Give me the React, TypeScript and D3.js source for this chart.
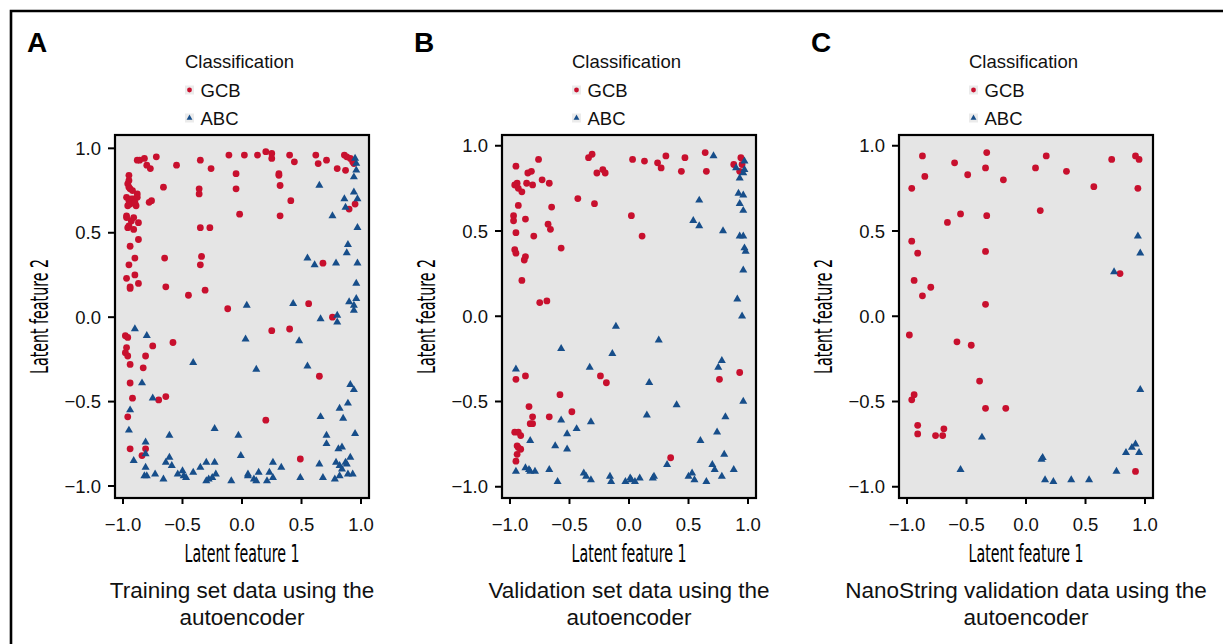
import React from "react"
import * as d3 from "d3"

// classification scatter: latent features from the autoencoder
const ticks = [-1.0, -0.5, 0.0, 0.5, 1.0]
const classes = ["GCB", "ABC"]
const titles = [
  ["Training set data using the", "autoencoder"],
  ["Validation set data using the", "autoencoder"],
  ["NanoString validation data using the", "autoencoder"]
]
const letters = ["A", "B", "C"]

const trainGCB = [
  [-0.95,0.84],[-0.88,0.93],[-0.86,0.93],[-0.82,0.94],[-0.80,0.90],[-0.77,0.88],[-0.72,0.95],[-0.55,0.90],[-0.35,0.93],[-0.26,0.88],
  [-0.11,0.96],[-0.05,0.85],[-0.05,0.76],[-0.02,0.61],[0.02,0.96],[0.13,0.96],[0.20,0.98],[0.25,0.97],[0.25,0.94],[0.31,0.85],
  [0.31,0.84],[0.32,0.78],[0.32,0.60],[0.40,0.96],[0.41,0.69],[0.44,0.92],[0.62,0.96],[0.64,0.91],[0.71,0.93],[0.80,0.88],
  [0.87,0.87],[0.86,0.96],[0.88,0.95],[0.91,0.94],[0.93,0.92],[0.94,0.91],[0.95,0.67],[0.90,0.64],[0.68,0.32],[0.56,0.08],[0.76,0.00],
  [-0.95,0.81],[-0.96,0.79],[-0.95,0.77],[-0.94,0.76],[-0.92,0.75],[-0.97,0.71],[-0.95,0.69],[-0.93,0.70],[-0.91,0.70],[-0.96,0.66],
  [-0.94,0.67],[-0.88,0.73],[-0.88,0.71],[-0.89,0.66],[-0.90,0.68],[-0.97,0.60],[-0.97,0.59],[-0.91,0.59],[-0.93,0.57],[-0.87,0.56],
  [-0.95,0.54],[-0.96,0.53],[-0.91,0.52],[-0.87,0.46],[-0.94,0.42],[-0.90,0.35],[-0.95,0.31],[-0.97,0.23],[-0.90,0.25],[-0.94,0.18],
  [-0.94,0.17],[-0.87,0.20],[-0.78,0.68],[-0.76,0.69],[-0.66,0.77],[-0.65,0.35],[-0.64,0.18],[-0.45,0.13],[-0.36,0.76],[-0.36,0.73],
  [-0.35,0.53],[-0.27,0.53],[-0.34,0.36],[-0.35,0.31],[-0.31,0.16],[-0.12,0.05],
  [-0.98,-0.11],[-0.96,-0.12],[-0.97,-0.18],[-0.98,-0.21],[-0.96,-0.23],[-0.94,-0.28],[-0.83,-0.30],[-0.81,-0.23],[-0.75,-0.17],[-0.58,-0.15],
  [-0.94,-0.39],[-0.92,-0.48],[-0.96,-0.59],[-0.94,-0.78],[-0.81,-0.78],[-0.84,-0.82],[-0.70,-0.49],[-0.64,-0.47],[0.25,-0.08],[0.40,-0.07],
  [0.65,-0.35],[0.20,-0.61],[0.49,-0.84]
]
const trainABC = [
  [0.95,0.94],[0.96,0.91],[0.96,0.87],[0.94,0.83],[0.65,0.78],[0.94,0.74],[0.97,0.70],[0.86,0.70],[0.87,0.65],[0.76,0.60],
  [0.97,0.53],[0.89,0.43],[0.88,0.38],[0.55,0.35],[0.61,0.31],[0.79,0.32],[0.97,0.32],[0.96,0.20],[0.96,0.11],[0.90,0.09],
  [0.94,0.07],[0.94,0.04],[0.04,0.07],[0.43,0.08],[0.66,-0.01],[0.80,0.01],[0.80,-0.03],
  [-0.90,-0.07],[-0.80,-0.11],[0.03,-0.13],[0.48,-0.14],[-0.41,-0.27],[0.12,-0.31],[0.55,-0.29],[-0.84,-0.39],[-0.75,-0.48],[-0.94,-0.55],
  [-0.95,-0.67],[-0.81,-0.74],[-0.81,-0.81],[-0.91,-0.85],[-0.81,-0.89],[-0.82,-0.94],[-0.80,-0.94],[-0.73,-0.93],[-0.66,-0.96],[-0.64,-0.86],
  [-0.61,-0.83],[-0.59,-0.88],[-0.61,-0.70],[-0.54,-0.93],[-0.50,-0.91],[-0.49,-0.94],[-0.47,-0.95],[-0.41,-0.92],[-0.35,-0.89],[-0.30,-0.86],
  [-0.30,-0.97],[-0.28,-0.96],[-0.25,-0.95],[-0.23,-0.86],[-0.22,-0.93],[-0.23,-0.66],[-0.09,-0.97],[-0.03,-0.70],[-0.01,-0.82],[0.05,-0.93],
  [0.05,-0.94],[0.10,-0.96],[0.12,-0.97],[0.14,-0.92],[0.21,-0.97],[0.23,-0.92],[0.26,-0.95],[0.26,-0.86],[0.33,-0.89],[0.49,-0.95],
  [0.65,-0.87],[0.66,-0.59],[0.68,-0.95],[0.71,-0.70],[0.71,-0.75],[0.78,-0.96],[0.79,-0.86],[0.82,-0.94],[0.81,-0.78],[0.84,-0.77],
  [0.82,-0.54],[0.85,-0.60],[0.82,-0.88],[0.84,-0.90],[0.87,-0.86],[0.88,-0.87],[0.89,-0.93],[0.93,-0.93],[0.91,-0.83],[0.89,-0.51],
  [0.91,-0.40],[0.94,-0.43],[0.95,-0.69]
]

const validGCB = [
  [-0.95,0.88],[-0.76,0.92],[-0.95,0.77],[-0.94,0.78],[-0.96,0.77],[-0.93,0.75],[-0.90,0.73],[-0.86,0.78],[-0.81,0.77],[-0.85,0.84],
  [-0.82,0.85],[-0.73,0.80],[-0.67,0.78],[-0.93,0.65],[-0.65,0.64],[-0.97,0.59],[-0.97,0.56],[-0.87,0.57],[-0.95,0.49],[-0.80,0.47],
  [-0.68,0.54],[-0.66,0.51],[-0.57,0.40],[-0.96,0.39],[-0.95,0.37],[-0.87,0.35],[-0.88,0.33],[-0.90,0.21],[-0.75,0.08],[-0.69,0.09],
  [-0.43,0.69],[-0.34,0.93],[-0.31,0.95],[-0.29,0.66],[-0.27,0.84],[-0.22,0.86],[-0.20,0.84],[0.03,0.92],[0.13,0.91],[0.02,0.59],
  [0.11,0.47],[0.24,0.90],[0.27,0.87],[0.31,0.94],[0.44,0.85],[0.47,0.93],[0.64,0.96],[0.65,0.85],[0.88,0.89],[0.94,0.93],
  [0.95,0.89],[0.93,0.85],
  [-0.95,-0.37],[-0.87,-0.35],[-0.24,-0.35],[-0.19,-0.39],[-0.58,-0.46],[-0.48,-0.56],[-0.84,-0.53],[-0.67,-0.59],[-0.81,-0.59],[-0.83,-0.63],
  [-0.81,-0.63],[-0.96,-0.68],[-0.93,-0.68],[-0.91,-0.70],[-0.94,-0.76],[-0.93,-0.77],[-0.91,-0.78],[-0.94,-0.81],[-0.95,-0.85],[0.35,-0.83],
  [0.76,-0.37],[0.93,-0.33]
]
const validABC = [
  [0.71,0.94],[0.90,0.87],[0.97,0.91],[0.97,0.86],[0.96,0.84],[0.93,0.81],[0.92,0.72],[0.96,0.71],[0.93,0.66],[0.96,0.62],
  [0.59,0.68],[0.54,0.56],[0.59,0.53],[0.79,0.50],[0.93,0.47],[0.96,0.47],[0.97,0.40],[0.98,0.38],[0.96,0.27],[0.91,0.10],
  [0.95,0.00],[-0.11,-0.06],
  [0.25,-0.14],[-0.57,-0.19],[-0.14,-0.22],[-0.95,-0.31],[-0.33,-0.30],[0.78,-0.26],[0.75,-0.30],[0.17,-0.39],[0.40,-0.52],[0.96,-0.50],
  [0.15,-0.58],[0.81,-0.59],[-0.57,-0.61],[-0.32,-0.62],[-0.44,-0.66],[-0.52,-0.69],[0.74,-0.68],[-0.83,-0.73],[0.60,-0.73],[-0.62,-0.76],
  [-0.52,-0.78],[0.80,-0.81],[0.32,-0.87],[0.70,-0.87],[0.72,-0.90],[0.88,-0.90],[0.78,-0.94],[-0.87,-0.89],[-0.83,-0.91],[-0.79,-0.91],
  [-0.84,-0.90],[-0.95,-0.91],[-0.67,-0.90],[-0.60,-0.97],[-0.38,-0.92],[-0.36,-0.94],[-0.32,-0.96],[-0.16,-0.94],[-0.15,-0.97],[-0.03,-0.97],
  [0.01,-0.95],[0.02,-0.96],[0.05,-0.97],[0.09,-0.95],[0.20,-0.95],[0.21,-0.94],[0.50,-0.94],[0.53,-0.92],[0.55,-0.96],[0.65,-0.97]
]

const nanoGCB = [
  [-0.87,0.94],[-0.96,0.75],[-0.85,0.82],[-0.60,0.90],[-0.49,0.83],[-0.34,0.87],[-0.33,0.96],[-0.19,0.80],[0.08,0.87],[0.17,0.94],
  [0.34,0.85],[0.57,0.76],[0.72,0.92],[0.92,0.94],[0.95,0.92],[0.94,0.75],[0.12,0.62],[-0.66,0.55],[-0.55,0.60],[-0.33,0.59],
  [-0.34,0.38],[-0.96,0.44],[-0.91,0.37],[-0.94,0.21],[-0.87,0.12],[-0.80,0.17],[-0.34,0.07],[0.79,0.25],
  [-0.98,-0.11],[-0.58,-0.15],[-0.46,-0.17],[-0.39,-0.38],[-0.94,-0.46],[-0.96,-0.49],[-0.34,-0.54],[-0.17,-0.54],[-0.91,-0.64],[-0.91,-0.69],
  [-0.76,-0.70],[-0.70,-0.70],[-0.69,-0.66],[0.92,-0.91]
]
const nanoABC = [
  [0.94,0.47],[0.96,0.37],[0.74,0.26],[0.96,-0.43],[-0.37,-0.71],[-0.55,-0.90],[0.13,-0.84],[0.14,-0.83],[0.16,-0.96],[0.23,-0.97],
  [0.38,-0.96],[0.53,-0.96],[0.76,-0.91],[0.84,-0.80],[0.89,-0.77],[0.92,-0.75],[0.95,-0.80]
]

const xDomain = [-1.067, 1.067]
const yDomains = [[-1.071, 1.079], [-1.066, 1.063], [-1.066, 1.063]]

const RED = "#C8102E"
const BLUE = "#174E8A"
const FONT = "'Liberation Sans', Arial, Helvetica, sans-serif"
const NARROW = "'Liberation Sans Narrow', 'DejaVu Sans Condensed', 'Liberation Sans', sans-serif"

const fmt = d3.format(".1f")
const tri = d3.symbol().type(d3.symbolTriangle).size(28)()
const triSmall = d3.symbol().type(d3.symbolTriangle).size(15)()

function Panel({ idx, left, gcb, abc }) {
  const top = 135
  const w = 254
  const h = 363
  const x = d3.scaleLinear().domain(xDomain).range([left, left + w])
  const y = d3.scaleLinear().domain(yDomains[idx]).range([top + h, top])
  const cx = left + w / 2
  const cy = top + h / 2
  const lx = left + 70

  return (
    <g fontFamily={FONT}>
      <text x={left - 88} y={52} fontSize={28} fontWeight="bold">{letters[idx]}</text>

      {/* legend */}
      <text x={lx} y={68} fontSize={18.5} fill="#111">Classification</text>
      {classes.map((c, i) => (
        <g key={c} transform={`translate(${lx + 4.5},${90 + i * 28})`}>
          <rect x={-4.5} y={-4.5} width={9} height={9} fill="#EBEBEB" />
          {i === 0
            ? <circle r={2.4} fill={RED} />
            : <path d={triSmall} fill={BLUE} />}
          <text x={11} y={6.5} fontSize={18.5} fill="#111">{c}</text>
        </g>
      ))}

      <rect x={left} y={top} width={w} height={h} fill="#E5E5E5" />

      {gcb.map((d, i) => (
        <circle key={"g" + i} cx={x(d[0])} cy={y(d[1])} r={3.4} fill={RED} />
      ))}
      {abc.map((d, i) => (
        <path key={"a" + i} d={tri} transform={`translate(${x(d[0])},${y(d[1])})`} fill={BLUE} />
      ))}

      <rect x={left} y={top} width={w} height={h} fill="none" stroke="#000" strokeWidth={2.2} />

      {/* y axis */}
      {ticks.map(t => (
        <g key={"y" + t}>
          <line x1={left - 7} x2={left} y1={y(t)} y2={y(t)} stroke="#000" strokeWidth={2} />
          <text x={left - 14} y={y(t)} dy="0.36em" textAnchor="end" fontSize={18.5} fill="#111">{fmt(t)}</text>
        </g>
      ))}
      {/* x axis */}
      {ticks.map(t => (
        <g key={"x" + t}>
          <line x1={x(t)} x2={x(t)} y1={top + h} y2={top + h + 6} stroke="#000" strokeWidth={2} />
          <text x={x(t)} y={531} textAnchor="middle" fontSize={18.5} fill="#111">{fmt(t)}</text>
        </g>
      ))}

      <text x={cx} y={562} textAnchor="middle" fontSize={24} fontFamily={NARROW}
        textLength={115} lengthAdjust="spacingAndGlyphs" fill="#000">Latent feature 1</text>
      <text transform={`translate(${left - 67},${cy}) rotate(-90)`} textAnchor="middle" fontSize={24}
        fontFamily={NARROW} textLength={115} lengthAdjust="spacingAndGlyphs" fill="#000">Latent feature 2</text>

      <text x={cx} y={598} textAnchor="middle" fontSize={22.5} fill="#111">{titles[idx][0]}</text>
      <text x={cx} y={625} textAnchor="middle" fontSize={22.5} fill="#111">{titles[idx][1]}</text>
    </g>
  )
}

export default function App() {
  return (
    <svg width={1223} height={644} style={{ position: "absolute", left: 0, top: 0, background: "#fff" }}>
      <path d="M11,644 V11 H1223" fill="none" stroke="#000" strokeWidth={2.6} />
      <Panel idx={0} left={115} gcb={trainGCB} abc={trainABC} />
      <Panel idx={1} left={502} gcb={validGCB} abc={validABC} />
      <Panel idx={2} left={899} gcb={nanoGCB} abc={nanoABC} />
    </svg>
  )
}
